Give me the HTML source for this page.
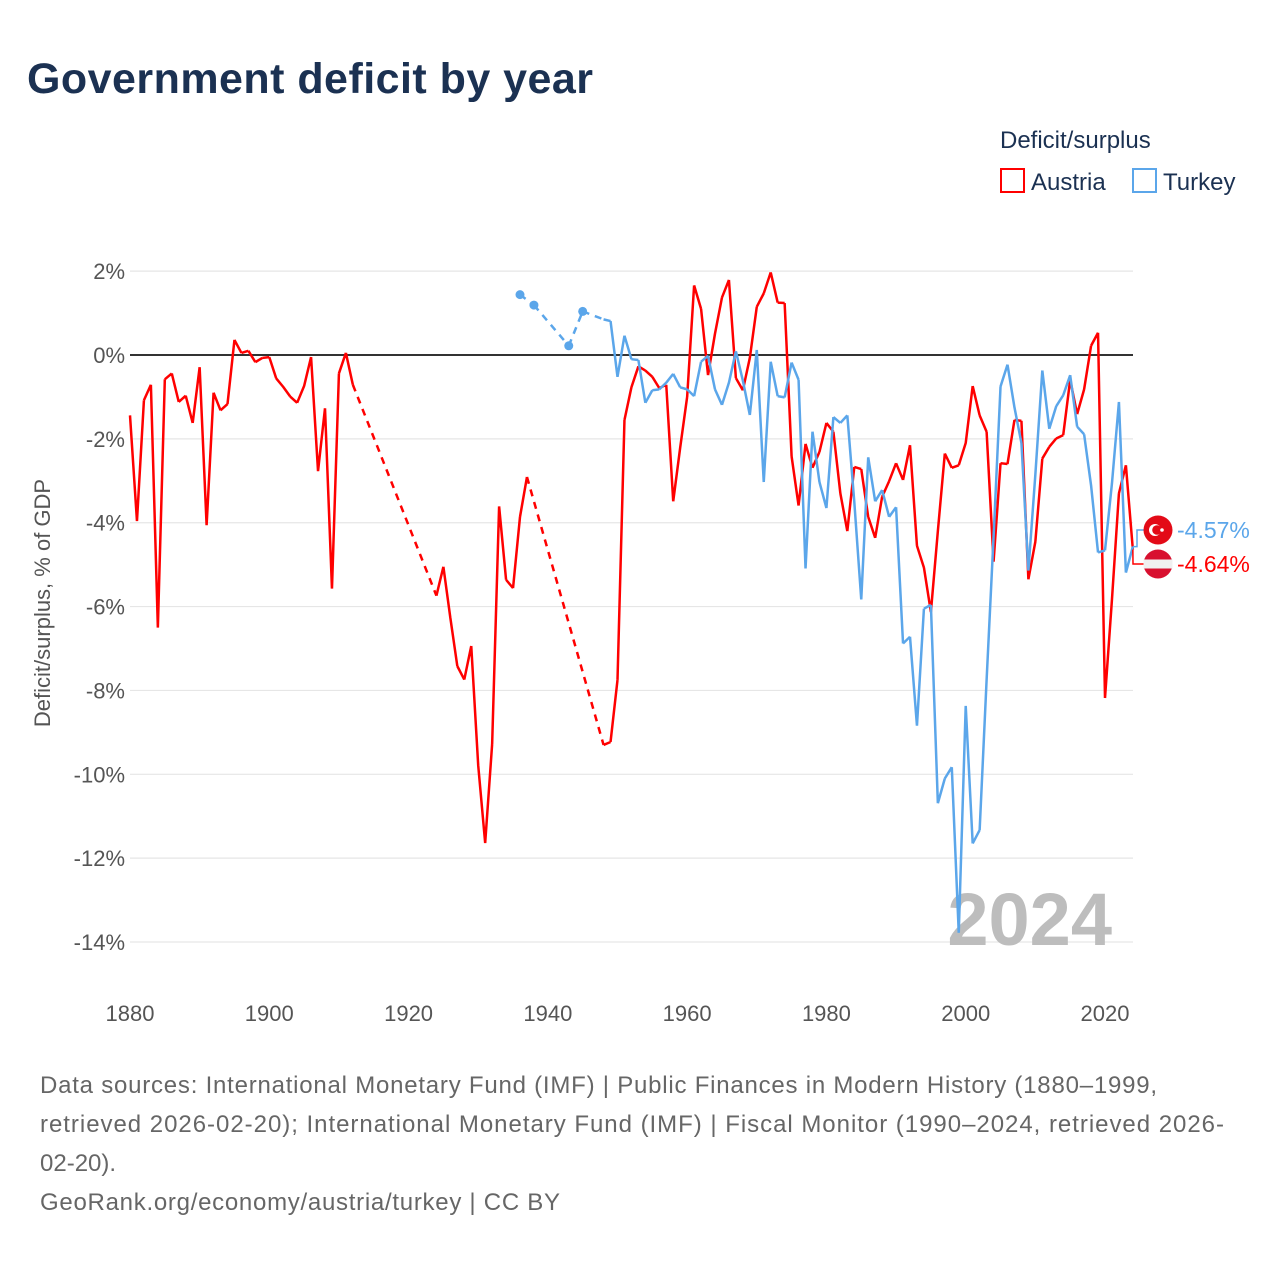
<!DOCTYPE html>
<html><head><meta charset="utf-8"><style>
body{margin:0;background:#fff;}
svg text{font-family:"Liberation Sans",sans-serif;}
</style></head><body>
<svg id="chart" width="1280" height="1280" viewBox="0 0 1280 1280" xmlns="http://www.w3.org/2000/svg">
<text x="27" y="93" font-size="43" font-weight="bold" fill="#1b3152" textLength="566">Government deficit by year</text>
<g>
<text x="1000" y="148" font-size="24" fill="#1b3152">Deficit/surplus</text>
<g><rect x="1001" y="169" width="23" height="23" fill="none" stroke="#f00" stroke-width="2"/><text x="1031" y="190" font-size="24" fill="#1b3152">Austria</text></g>
<g><rect x="1133" y="169" width="23" height="23" fill="none" stroke="#5ba6ea" stroke-width="2"/><text x="1163" y="190" font-size="24" fill="#1b3152">Turkey</text></g>
</g>
<g id="grid"></g>
<g id="xticks"></g>
<text x="0" y="0" transform="translate(50,603) rotate(-90)" text-anchor="middle" font-size="22" fill="#555">Deficit/surplus, % of GDP</text>
<text x="1112" y="945" text-anchor="end" font-size="74" font-weight="bold" fill="#bdbdbd">2024</text>
<g id="series"></g>
<g id="endlabels"></g>
<g font-size="24" fill="#666">
<text x="40" y="1093" textLength="1117">Data sources: International Monetary Fund (IMF) | Public Finances in Modern History (1880–1999,</text>
<text x="40" y="1132" textLength="1184">retrieved 2026-02-20); International Monetary Fund (IMF) | Fiscal Monitor (1990–2024, retrieved 2026-</text>
<text x="40" y="1171">02-20).</text>
<text x="40" y="1210" textLength="520">GeoRank.org/economy/austria/turkey | CC BY</text>
</g>
</svg>
<script>
const yTicks=[2,0,-2,-4,-6,-8,-10,-12,-14];
const xTicks=[1880,1900,1920,1940,1960,1980,2000,2020];
const austriaStart=1880;
const austria=[-1.44,-3.96,-1.08,-0.71,-6.5,-0.58,-0.44,-1.12,-0.97,-1.62,
-0.29,-4.06,-0.9,-1.32,-1.17,0.36,0.05,0.1,-0.17,-0.07,
-0.05,-0.56,-0.76,-0.99,-1.14,-0.74,-0.05,-2.77,-1.27,-5.57,
-0.44,0.05,-0.71,null,null,null,null,null,null,null,
null,null,null,null,-5.74,-5.05,-6.27,-7.42,-7.74,-6.94,
-9.79,-11.64,-9.28,-3.61,-5.36,-5.56,-3.86,-2.91,null,null,
null,null,null,null,null,null,null,null,-9.3,-9.23,
-7.75,-1.55,-0.77,-0.27,-0.37,-0.52,-0.79,-0.71,-3.49,-2.21,
-1.0,1.66,1.1,-0.48,0.51,1.37,1.79,-0.55,-0.84,-0.07,
1.15,1.47,1.97,1.25,1.24,-2.42,-3.59,-2.12,-2.69,-2.31,
-1.62,-1.83,-3.3,-4.2,-2.67,-2.72,-3.86,-4.36,-3.38,-3.01,
-2.58,-2.98,-2.15,-4.55,-5.07,-6.13,-4.2,-2.35,-2.69,-2.63,
-2.1,-0.74,-1.44,-1.83,-4.93,-2.58,-2.6,-1.55,-1.57,-5.35,
-4.45,-2.47,-2.19,-1.99,-1.91,-0.59,-1.41,-0.82,0.22,0.53,
-8.18,-5.83,-3.3,-2.63,-4.64];
const turkeyStart=1936;
const turkey=[1.44,null,1.19,null,null,null,null,0.22,null,1.04,
null,null,0.85,0.81,-0.52,0.46,-0.1,-0.12,-1.14,-0.84,
-0.82,-0.66,-0.45,-0.77,-0.82,-0.98,-0.16,-0.02,-0.82,-1.19,
-0.66,0.09,-0.61,-1.43,0.12,-3.03,-0.16,-0.98,-1.01,-0.18,
-0.59,-5.09,-1.83,-3.03,-3.65,-1.48,-1.62,-1.44,-3.5,-5.83,
-2.44,-3.49,-3.22,-3.86,-3.63,-6.88,-6.72,-8.84,-6.05,-5.96,
-10.69,-10.1,-9.83,-13.78,-8.37,-11.65,-11.33,-7.75,-4.34,-0.75,
-0.23,-1.25,-2.1,-5.14,-2.85,-0.37,-1.76,-1.22,-0.96,-0.48,
-1.71,-1.89,-3.11,-4.71,-4.66,-3.06,-1.12,-5.19,-4.57];
const NS='http://www.w3.org/2000/svg';
const X=yr=>130+(yr-1880)*(975/140);
const Y=v=>355-v*41.93;
function mk(t,a,p){const e=document.createElementNS(NS,t);for(const k in a)e.setAttribute(k,a[k]);p.appendChild(e);return e;}
const grid=document.getElementById('grid');
yTicks.forEach(t=>{
 const l=mk('line',{x1:130,x2:1133,y1:Y(t),y2:Y(t),stroke:t===0?'#333':'#e6e6e6','stroke-width':t===0?2:1.2},grid);
 
 
 const tx=mk('text',{x:125,y:Y(t)+8,'text-anchor':'end','font-size':22,fill:'#555'},grid);
 tx.textContent=t+'%';
 
 
});
const xt=document.getElementById('xticks');
xTicks.forEach(t=>{
 const tx=mk('text',{x:X(t),y:1021,'text-anchor':'middle','font-size':22,fill:'#555'},xt);
 tx.textContent=t;
 
 
});
const sg=document.getElementById('series');
function draw(vals,start,color,name){
 const g=mk('g',{},sg);
 
 
 const pts=[];vals.forEach((v,i)=>{if(v!==null)pts.push([start+i,v]);});
 let solid='';
 for(let i=0;i<pts.length-1;i++){
  const [a,va]=pts[i],[b,vb]=pts[i+1];
  if(b-a===1){solid+=`M${X(a)},${Y(va)}L${X(b)},${Y(vb)}`;}
  else{const d=mk('path',{d:`M${X(a)},${Y(va)}L${X(b)},${Y(vb)}`,stroke:color,'stroke-width':2.5,'stroke-dasharray':'7,6',fill:'none'},g);
   
   }
 }
 const p=mk('path',{d:solid,stroke:color,'stroke-width':2.5,fill:'none','stroke-linejoin':'round'},g);
 
 
 vals.forEach((v,i)=>{
  if(v===null)return;
  const prev=i>0?vals[i-1]:null,next=i<vals.length-1?vals[i+1]:null;
  if(prev===null&&next===null){
   const c=mk('circle',{cx:X(start+i),cy:Y(v),r:4.5,fill:color},g);
   
   
  }
 });
}
draw(austria,austriaStart,'#ff0000','austria');
draw(turkey,turkeyStart,'#5ba6ea','turkey');
const el=document.getElementById('endlabels');
const lt=turkey[turkey.length-1],la=austria[austria.length-1];
const yT=530,yA=564;
let c1=mk('path',{d:`M${X(2024)},${Y(lt)}L1137,${Y(lt)}L1137,${yT}L1144,${yT}`,stroke:'#5ba6ea','stroke-width':1.5,fill:'none'},el);


let c2=mk('path',{d:`M${X(2024)},${Y(la)}L1133,${yA}L1144,${yA}`,stroke:'#ff0000','stroke-width':1.5,fill:'none'},el);


let f1=mk('g',{},el);


mk('circle',{cx:1158,cy:yT,r:14.5,fill:'#e30a17'},f1);
mk('circle',{cx:1155,cy:yT,r:6,fill:'#fff'},f1);
mk('circle',{cx:1157,cy:yT,r:4.8,fill:'#e30a17'},f1);
mk('circle',{cx:1162,cy:yT,r:1.8,fill:'#fff'},f1);
let f2=mk('g',{},el);


mk('circle',{cx:1158,cy:yA,r:14.5,fill:'#d8102f'},f2);
mk('rect',{x:1143.5,y:yA-4.5,width:29,height:9,fill:'#f0f0f0'},f2);
let t1=mk('text',{x:1177,y:yT+8,'font-size':23,fill:'#5ba6ea'},el);
t1.textContent=lt.toFixed(2)+'%';


let t2=mk('text',{x:1177,y:yA+8,'font-size':23,fill:'#ff0000'},el);
t2.textContent=la.toFixed(2)+'%';


</script>
</body></html>
